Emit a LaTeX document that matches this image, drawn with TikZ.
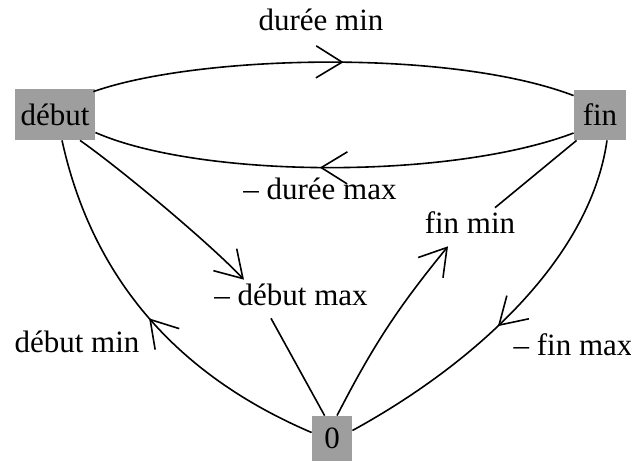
\documentclass[tikz,border=0pt]{standalone}
\usepackage{fontspec}
\setmainfont{Liberation Serif}
\usetikzlibrary{arrows.meta,decorations.markings}

\tikzset{
  etat/.style={fill=black!38, inner sep=0pt, font=\fontsize{15.5}{18}\selectfont},
  lbl/.style={font=\fontsize{15.5}{18}\selectfont, inner sep=2pt},
  fl/.style={line width=0.8pt},
  pointe/.style={-{Straight Barb[length=13pt,width=16pt]}},
  milieu/.style={postaction={decorate}, decoration={markings,
      mark=at position #1 with {\arrow{Straight Barb[length=13pt,width=16pt]}}}},
}

\begin{document}
\begin{tikzpicture}[x=0.5pt,y=-0.5pt]
	  \useasboundingbox (0,0) rectangle (631,461);

	  % les trois sommets
	  \node[etat, minimum width=40pt, minimum height=25.5pt] (debut) at (55,114.5) {début};
	  \node[etat, minimum width=26pt, minimum height=25pt] (fin) at (600,115) {fin};
	  \node[etat, minimum width=20pt, minimum height=22.5pt] (zero) at (332,438.5) {0};

	  % les etiquettes
	  \node[lbl] (tmin) at (321,20) {durée min};
	  \node[lbl] (tmax) at (320,189) {– durée max};
	  \node[lbl] (dmin) at (77,342) {début min};
	  \node[lbl] (dmax) at (291,295) {– début max};
	  \node[lbl] (fmin) at (470,223) {fin min};
	  \node[lbl] (fmax) at (573,345) {– fin max};

	  % duree
	  \draw[fl, milieu=0.52] ([xshift=-1pt,yshift=-1.5pt]debut.north east)
	    .. controls +(105,-37) and +(-123,-47) .. ([yshift=-3pt]fin.north west);
	  \draw[fl, milieu=0.53] ([yshift=-9pt]fin.west)
	    .. controls +(-124,47) and +(105,46) .. ([yshift=-9pt]debut.east);

	  % debut
	  \draw[fl, pointe] ([xshift=12.5pt]debut.south)
	    .. controls +(40,28) and +(-35,-37) .. ([xshift=17pt]dmax.north west);
	  \draw[fl] ([xshift=-10pt,yshift=-4pt]dmax.south) -- ([xshift=6.5pt]zero.north west);
	  \draw[fl, milieu=0.5] ([yshift=3pt]zero.west)
	    .. controls +(-122,-52) and +(33,150) .. ([xshift=3.5pt]debut.south);

	  % fin
	  \draw[fl, pointe] ([xshift=2.5pt]zero.north) to[bend left=6]
	    ([xshift=-11pt,yshift=-4pt]fmin.south);
	  \draw[fl] ([xshift=12.5pt]fmin.north) -- ([xshift=1.5pt]fin.south west);
	  \draw[fl, milieu=0.55] ([xshift=3.5pt]fin.south)
	    .. controls +(-17,120) and +(119,-65) .. ([yshift=4pt]zero.east);
	\end{tikzpicture}
\end{document}
